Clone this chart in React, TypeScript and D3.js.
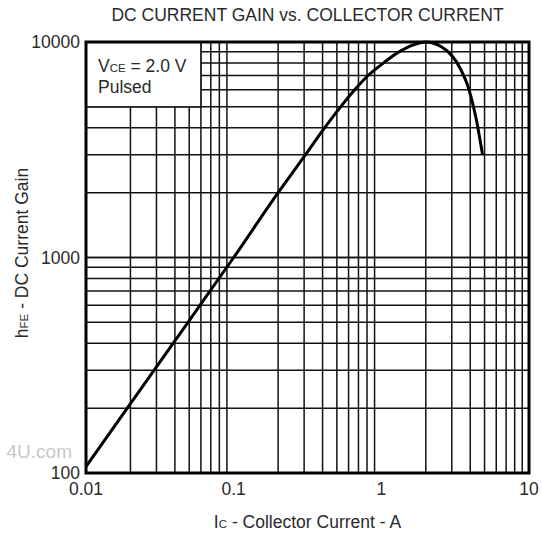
import React, { useEffect, useRef } from 'react';
import * as d3 from 'd3';

// Ic (A) vs hFE
const collectorCurrent = [0.01, 0.02, 0.05, 0.1, 0.2, 0.3, 0.4, 0.53, 0.66, 0.81, 1.0, 1.3, 1.63, 2.0, 2.74, 3.37, 3.93, 4.36, 4.85];
const currentGain = [107, 210, 510, 1000, 2000, 2940, 3880, 5000, 6000, 6970, 7850, 8950, 9680, 10000, 9180, 7680, 5990, 4500, 2990];

const xTicks = [0.01, 0.1, 1, 10];
const yTicks = [100, 1000, 10000];
const xTickLabels = ['0.01', '0.1', '1', '10'];
const yTickLabels = ['100', '1000', '10000'];

const FONT = "'Liberation Sans', Arial, sans-serif";
const INK = '#2a2a2a';

export default function App() {
    const svgRef = useRef<SVGSVGElement>(null);

    useEffect(() => {
        if (!svgRef.current) return;

        const width = 542;
        const height = 533;
        const plot = { left: 86, right: 529, top: 42, bottom: 473 };

        const svg = d3.select(svgRef.current)
            .attr('width', width)
            .attr('height', height)
            .attr('viewBox', `0 0 ${width} ${height}`);
        svg.selectAll('*').remove();

        svg.append('rect').attr('width', width).attr('height', height).attr('fill', '#fff');

        const x = d3.scaleLog().domain([0.01, 10]).range([plot.left, plot.right]);
        const y = d3.scaleLog().domain([100, 10000]).range([plot.bottom, plot.top]);

        // log grid: 1..9 in every decade
        const xGrid: number[] = [];
        for (const dec of [0.01, 0.1, 1]) for (let k = 2; k <= 9; k++) xGrid.push(dec * k);
        const yGrid: number[] = [];
        for (const dec of [100, 1000]) for (let k = 2; k <= 10; k++) yGrid.push(dec * k);
        yGrid.pop();

        const grid = svg.append('g').attr('stroke', '#111').attr('stroke-width', 1.5);
        grid.selectAll('.vx').data(xGrid).enter().append('line')
            .attr('x1', d => x(d)).attr('x2', d => x(d))
            .attr('y1', plot.top).attr('y2', plot.bottom);
        grid.selectAll('.hy').data([...yGrid, 1000]).enter().append('line')
            .attr('y1', d => y(d)).attr('y2', d => y(d))
            .attr('x1', plot.left).attr('x2', plot.right);

        // legend box hides the grid in the corner
        svg.append('rect')
            .attr('x', plot.left)
            .attr('y', plot.top)
            .attr('width', x(0.06) - plot.left)
            .attr('height', y(5000) - plot.top)
            .attr('fill', '#fff')
            .attr('stroke', '#111')
            .attr('stroke-width', 1.5);

        const legend = svg.append('g')
            .attr('font-family', FONT)
            .attr('font-size', 17.5)
            .attr('fill', INK);
        const l1 = legend.append('text').attr('x', 98).attr('y', 72);
        l1.append('tspan').text('V');
        l1.append('tspan').attr('font-size', 11.5).text('CE');
        l1.append('tspan').text(' = 2.0 V');
        legend.append('text').attr('x', 98).attr('y', 93).text('Pulsed');

        // curve
        const line = d3.line<number>()
            .x((_, i) => x(collectorCurrent[i]))
            .y(d => y(d))
            .curve(d3.curveMonotoneX);
        svg.append('path')
            .attr('d', line(currentGain))
            .attr('fill', 'none')
            .attr('stroke', '#000')
            .attr('stroke-width', 3)
            .attr('stroke-linejoin', 'round');

        // frame
        svg.append('rect')
            .attr('x', plot.left)
            .attr('y', plot.top)
            .attr('width', plot.right - plot.left)
            .attr('height', plot.bottom - plot.top)
            .attr('fill', 'none')
            .attr('stroke', '#000')
            .attr('stroke-width', 3);

        // tick labels
        const labels = svg.append('g')
            .attr('font-family', FONT)
            .attr('font-size', 17.5)
            .attr('fill', INK);
        labels.selectAll('.xt').data(xTicks).enter().append('text')
            .attr('x', d => x(d))
            .attr('y', 495)
            .attr('text-anchor', 'middle')
            .text((_, i) => xTickLabels[i]);
        labels.selectAll('.yt').data(yTicks).enter().append('text')
            .attr('x', 80)
            .attr('y', d => y(d))
            .attr('dy', '0.36em')
            .attr('text-anchor', 'end')
            .text((_, i) => yTickLabels[i]);

        // axis titles
        const xt = labels.append('text')
            .attr('x', (plot.left + plot.right) / 2)
            .attr('y', 528)
            .attr('text-anchor', 'middle');
        xt.append('tspan').text('I');
        xt.append('tspan').attr('font-size', 11.5).text('C');
        xt.append('tspan').text(' - Collector Current - A');

        const yt = labels.append('text')
            .attr('transform', `translate(28,253) rotate(-90)`)
            .attr('text-anchor', 'middle');
        yt.append('tspan').text('h');
        yt.append('tspan').attr('font-size', 11.5).text('FE');
        yt.append('tspan').text(' - DC Current Gain');

        // title
        svg.append('text')
            .attr('x', (plot.left + plot.right) / 2)
            .attr('y', 21)
            .attr('text-anchor', 'middle')
            .attr('font-family', FONT)
            .attr('font-size', 17.5)
            .attr('fill', INK)
            .text('DC CURRENT GAIN vs. COLLECTOR CURRENT');

        // watermark fragment at the left edge
        svg.append('text')
            .attr('x', 72)
            .attr('y', 458)
            .attr('text-anchor', 'end')
            .attr('font-family', FONT)
            .attr('font-size', 19)
            .attr('fill', '#c8c8c8')
            .text('4U.com');
    }, []);

    return <svg ref={svgRef} style={{ position: 'absolute', left: 0, top: 0, display: 'block' }} />;
}
